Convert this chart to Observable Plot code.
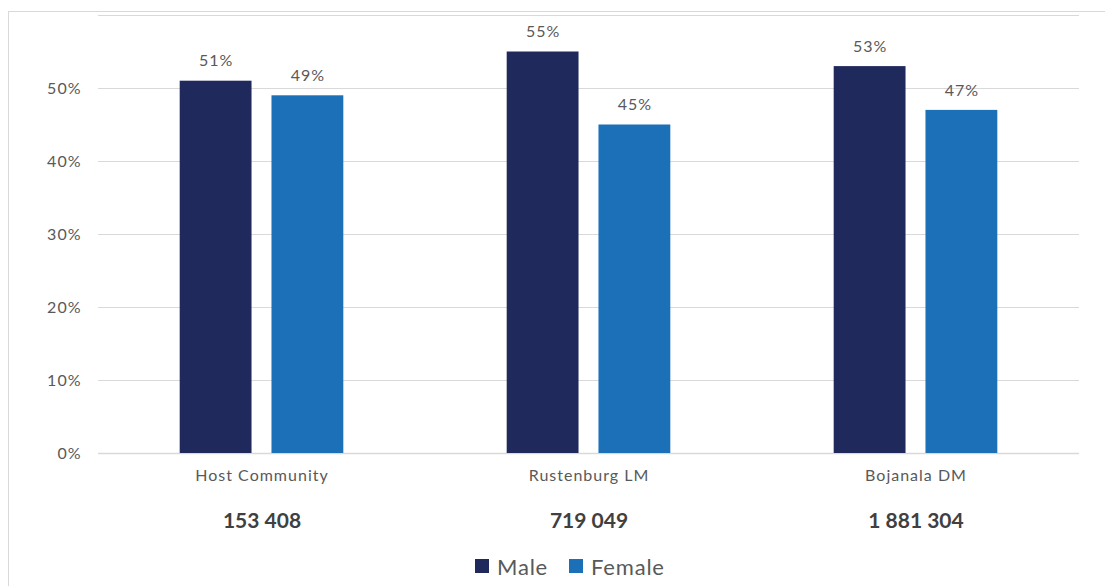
<!DOCTYPE html>
<html>
<head>
<meta charset="utf-8">
<script src="https://cdn.jsdelivr.net/npm/d3@7"></script>
<script src="https://cdn.jsdelivr.net/npm/@observablehq/plot@0.6"></script>
<style>
  html, body { margin: 0; padding: 0; background: #fff; }
  #wrap { position: relative; width: 1105px; height: 586px; overflow: hidden; font-family: Lato, sans-serif; }
  #frame { position: absolute; left: 8px; top: 11px; width: 1200px; height: 700px;
           border-left: 1px solid #d9d9d9; border-top: 1px solid #d9d9d9; }
  #chart { position: absolute; left: 0; top: 0; }
  #chart svg text { letter-spacing: 1px; }
  #chart svg g[font-weight="bold"] text { letter-spacing: 0; }
  #legend { position: absolute; left: 475px; top: 548px; height: 36px;
            display: flex; align-items: center; gap: 21px;
            color: #595959; font-size: 22px; letter-spacing: 0.8px; }
  #legend .item { display: flex; align-items: center; gap: 8px; }
  #legend .sw { width: 14px; height: 14px; display: inline-block; }
</style>
</head>
<body>
<div id="wrap">
  <div id="frame"></div>
  <div id="chart"></div>
  <div id="legend"></div>
</div>
<script>
// Population split by sex for each area, with the area's total population
const places = ["Host Community", "Rustenburg LM", "Bojanala DM"];
const totals = ["153 408", "719 049", "1 881 304"];
const sexes = ["Male", "Female"];
const maleShare = [0.51, 0.55, 0.53];
const femaleShare = [0.49, 0.45, 0.47];
const yTicks = [0, 0.1, 0.2, 0.3, 0.4, 0.5];
const colors = ["#20295c", "#1b70b8"];

const rows = places.flatMap((place, i) => [
  {place, sex: "Male", value: maleShare[i]},
  {place, sex: "Female", value: femaleShare[i]}
]);
const totalOf = new Map(places.map((p, i) => [p, totals[i]]));
const pct = d3.format(".0%");

const chart = Plot.plot({
  width: 1105,
  height: 548,
  marginLeft: 97,
  marginRight: 25,
  marginTop: 15,
  marginBottom: 95,
  style: {fontFamily: "Lato, sans-serif", fontSize: "16px", color: "#595959", background: "transparent", overflow: "visible"},
  fx: {domain: places, padding: 0},
  x: {domain: sexes, paddingInner: 0.2174, paddingOuter: 0.89, round: false, axis: null},
  y: {domain: [0, 0.6]},
  color: {domain: sexes, range: colors},
  marks: [
    Plot.gridY([0.1, 0.2, 0.3, 0.4, 0.5, 0.6], {stroke: "#d9d9d9", strokeOpacity: 1}),
    Plot.ruleY([0], {stroke: "#d9d9d9", strokeWidth: 1.5}),
    Plot.barY(rows, {fx: "place", x: "sex", y: "value", fill: "sex"}),
    Plot.text(rows, {fx: "place", x: "sex", y: "value", text: d => pct(d.value), dy: -20, fontSize: 16, fill: "#595959"}),
    Plot.axisY({ticks: yTicks, tickFormat: pct, tickSize: 0, tickPadding: 17, label: null, fontSize: 16}),
    Plot.axisFx({anchor: "bottom", tickSize: 0, tickPadding: 16, label: null, fontSize: 16}),
    Plot.axisFx({anchor: "bottom", tickSize: 0, tickPadding: 60, label: null, fontSize: 21, fontWeight: "bold",
                 fill: "#404040", tickFormat: p => totalOf.get(p)})
  ]
});
document.getElementById("chart").appendChild(chart);

// Legend
const legend = document.getElementById("legend");
sexes.forEach((s, i) => {
  const item = document.createElement("span");
  item.className = "item";
  item.innerHTML = `<span class="sw" style="background:${colors[i]}"></span><span>${s}</span>`;
  legend.appendChild(item);
});
</script>
</body>
</html>
